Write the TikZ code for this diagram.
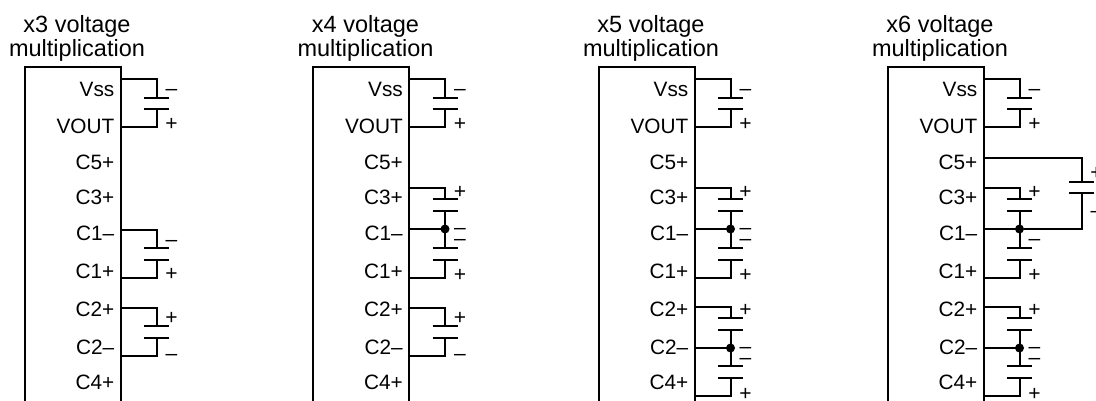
\documentclass[tikz,border=0pt]{standalone}
\usepackage{fontspec}
\setmainfont{Liberation Sans}

\tikzset{
	wire/.style={line width=2pt},
	pinlabel/.style={anchor=base east, inner sep=0pt, font=\fontsize{20.8}{24}\selectfont},
	blocktitle/.style={anchor=base, inner sep=0pt, font=\fontsize{23.5}{24}\selectfont},
	capsign/.style={anchor=base, inner sep=0pt, font=\fontsize{21}{24}\selectfont},
	junction/.style={circle, fill, inner sep=0pt, minimum size=9pt},
}

\begin{document}
\begin{tikzpicture}[x=1pt, y=-1pt]
	\clip (0,0) rectangle (1096,400);
	%% the four chips: title, box, pin names and the Vss/VOUT capacitor
	\foreach \dx/\mult in {24.5/3, 313/4, 598.5/5, 887.5/6} {
	\begin{scope}[xshift=\dx pt]
		\node[blocktitle] (title\mult) at (52.5,32.5) {x\mult\ voltage};
		\node[blocktitle] (mult\mult) at (52.5,56.5) {multiplication};
		\draw[wire] (0,410) -- (0,67) -- (96,67) -- (96,410);
		\foreach \y/\txt/\nm in {89/Vss/vss, 126/VOUT/vout, 162/C5+/cfivep, 197/C3+/cthreep, 233/C1–/conem, 271/C1+/conep, 309/C2+/ctwop, 347/C2–/ctwom, 382/C4+/cfourp}
			\node[pinlabel] (\nm\mult) at (90,\y+7.5) {\txt};
		\draw[wire] (96,79) -| (132,97.5);
		\draw[wire] (119.5,97.5) -- (144.5,97.5);
		\draw[wire] (119.5,109) -- (144.5,109);
		\draw[wire] (132,109) |- (96,127);
		\node[capsign] (vssneg\mult) at (147,89+6) {–};
		\node[capsign] (voutpos\mult) at (147,123+7.5) {+};
	\end{scope}
	}

	%% x3
	\begin{scope}[xshift=24.5pt]
		\draw[wire] (96,230) -| (132,248);
		\draw[wire] (119.5,248) -- (144.5,248);
		\draw[wire] (119.5,260) -- (144.5,260);
		\draw[wire] (132,260) |- (96,278);
		\node[capsign] (sa) at (147,240+6) {–};
		\node[capsign] (sb) at (147,273+7.5) {+};
		\draw[wire] (96,308) -| (132,326);
		\draw[wire] (119.5,326) -- (144.5,326);
		\draw[wire] (119.5,338) -- (144.5,338);
		\draw[wire] (132,338) |- (96,356);
		\node[capsign] (sc) at (147,317+7.5) {+};
		\node[capsign] (sd) at (147,354+6) {–};
	\end{scope}

	%% x4
	\begin{scope}[xshift=313pt]
		\draw[wire] (96,188) -| (132,199);
		\draw[wire] (119.5,199) -- (144.5,199);
		\draw[wire] (119.5,211) -- (144.5,211);
		\draw[wire] (132,211) -- (132,248);
		\draw[wire] (119.5,248) -- (144.5,248);
		\draw[wire] (119.5,260) -- (144.5,260);
		\draw[wire] (132,260) |- (96,278);
		\draw[wire] (96,229) -- (132,229);
		\node[junction] (dota) at (132,229) {};
		\node[capsign] (sa) at (147,191+7.5) {+};
		\node[capsign] (sb) at (147,228+6) {–};
		\node[capsign] (sc) at (147,239+6) {–};
		\node[capsign] (sd) at (147,274+7.5) {+};
		\draw[wire] (96,308) -| (132,326);
		\draw[wire] (119.5,326) -- (144.5,326);
		\draw[wire] (119.5,338) -- (144.5,338);
		\draw[wire] (132,338) |- (96,356);
		\node[capsign] (se) at (147,317+7.5) {+};
		\node[capsign] (sf) at (147,354+6) {–};
	\end{scope}

	%% x5
	\begin{scope}[xshift=598.5pt]
		\draw[wire] (96,188) -| (132,199);
		\draw[wire] (119.5,199) -- (144.5,199);
		\draw[wire] (119.5,211) -- (144.5,211);
		\draw[wire] (132,211) -- (132,248);
		\draw[wire] (119.5,248) -- (144.5,248);
		\draw[wire] (119.5,260) -- (144.5,260);
		\draw[wire] (132,260) |- (96,278);
		\draw[wire] (96,229) -- (132,229);
		\node[junction] (dota) at (132,229) {};
		\node[capsign] (sa) at (147,191+7.5) {+};
		\node[capsign] (sb) at (147,228+6) {–};
		\node[capsign] (sc) at (147,239+6) {–};
		\node[capsign] (sd) at (147,274+7.5) {+};
		\draw[wire] (96,307) -| (132,318);
		\draw[wire] (119.5,318) -- (144.5,318);
		\draw[wire] (119.5,330) -- (144.5,330);
		\draw[wire] (132,330) -- (132,366);
		\draw[wire] (119.5,366) -- (144.5,366);
		\draw[wire] (119.5,378) -- (144.5,378);
		\draw[wire] (132,378) |- (96,396);
		\draw[wire] (96,348) -- (132,348);
		\node[junction] (dotb) at (132,348) {};
		\node[capsign] (se) at (147,309+7.5) {+};
		\node[capsign] (sf) at (147,347+6) {–};
		\node[capsign] (sg) at (147,358+6) {–};
		\node[capsign] (sh) at (147,393+7.5) {+};
	\end{scope}

	%% x6
	\begin{scope}[xshift=887.5pt]
		\draw[wire] (96,188) -| (132,199);
		\draw[wire] (119.5,199) -- (144.5,199);
		\draw[wire] (119.5,211) -- (144.5,211);
		\draw[wire] (132,211) -- (132,248);
		\draw[wire] (119.5,248) -- (144.5,248);
		\draw[wire] (119.5,260) -- (144.5,260);
		\draw[wire] (132,260) |- (96,278);
		\draw[wire] (96,229) -- (132,229);
		\node[junction] (dota) at (132,229) {};
		\node[capsign] (sa) at (147,191+7.5) {+};
		\node[capsign] (sb) at (147,228+6) {–};
		\node[capsign] (sc) at (147,239+6) {–};
		\node[capsign] (sd) at (147,274+7.5) {+};
		\draw[wire] (96,307) -| (132,318);
		\draw[wire] (119.5,318) -- (144.5,318);
		\draw[wire] (119.5,330) -- (144.5,330);
		\draw[wire] (132,330) -- (132,366);
		\draw[wire] (119.5,366) -- (144.5,366);
		\draw[wire] (119.5,378) -- (144.5,378);
		\draw[wire] (132,378) |- (96,396);
		\draw[wire] (96,348) -- (132,348);
		\node[junction] (dotb) at (132,348) {};
		\node[capsign] (se) at (147,309+7.5) {+};
		\node[capsign] (sf) at (147,347+6) {–};
		\node[capsign] (sg) at (147,358+6) {–};
		\node[capsign] (sh) at (147,393+7.5) {+};
		%% C5+ capacitor
		\draw[wire] (96,158) -| (194,182);
		\draw[wire] (181.5,182) -- (206.5,182);
		\draw[wire] (181.5,193) -- (206.5,193);
		\draw[wire] (194,193) |- (dota);
		\node[capsign] (si) at (209,172+7.5) {+};
		\node[capsign] (sj) at (209,211+6) {–};
	\end{scope}
\end{tikzpicture}
\end{document}
